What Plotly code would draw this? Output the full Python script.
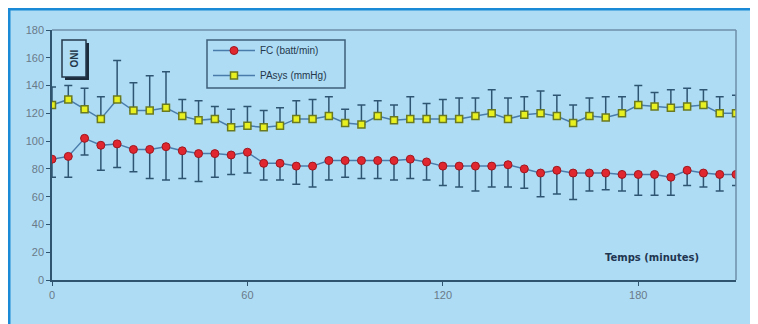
import plotly.graph_objects as go

minutes = list(range(0, 215, 5))

fc_values = [87, 89, 102, 97, 98, 94, 94, 96, 93, 91, 91, 90, 92, 84, 84, 82, 82, 86, 86, 86, 86, 86,
             87, 85, 82, 82, 82, 82, 83, 80, 77, 79, 77, 77, 77, 76, 76, 76, 74, 79, 77, 76, 76]
fc_err_minus = [13, 15, 12, 18, 17, 16, 21, 24, 20, 20, 17, 14, 15, 12, 12, 13, 15, 14, 12, 13, 13, 14,
                14, 13, 14, 15, 18, 15, 16, 14, 17, 17, 19, 13, 12, 12, 15, 15, 13, 11, 10, 12, 8]

pa_values = [126, 130, 123, 116, 130, 122, 122, 124, 118, 115, 116, 110, 111, 110, 111, 116, 116, 118,
             113, 112, 118, 115, 116, 116, 116, 116, 118, 120, 116, 119, 120, 118, 113, 118, 117, 120,
             126, 125, 124, 125, 126, 120, 120]
pa_err_plus = [13, 10, 15, 16, 28, 20, 25, 26, 12, 14, 9, 13, 14, 12, 13, 13, 14, 14, 10, 14, 11, 11,
               16, 11, 14, 15, 13, 17, 15, 13, 16, 15, 13, 13, 15, 12, 14, 10, 13, 13, 11, 12, 13]

x_ticks = [0, 60, 120, 180]
y_ticks = [0, 20, 40, 60, 80, 100, 120, 140, 160, 180]

BG = "#aedcf5"
AXIS = "#2f5470"
LINE = "#4a7cab"
ERR = "#2e5572"

fig = go.Figure()

fig.add_trace(go.Scatter(
    x=minutes, y=fc_values, name="FC (batt/min)", mode="lines+markers", legendgroup="a",
    line=dict(color=LINE, width=1.5),
    marker=dict(symbol="circle", size=8, color="#e0262e", line=dict(color="#a01820", width=1)),
    error_y=dict(type="data", symmetric=False, array=[0] * len(fc_err_minus),
                 arrayminus=fc_err_minus, color=ERR, thickness=1.5, width=4),
))
fig.add_trace(go.Scatter(
    x=minutes, y=pa_values, name="PAsys (mmHg)", mode="lines+markers", legendgroup="b",
    line=dict(color=LINE, width=1.5),
    marker=dict(symbol="square", size=7, color="#e8f020", line=dict(color="#6a7a20", width=1.5)),
    error_y=dict(type="data", symmetric=False, array=pa_err_plus,
                 arrayminus=[0] * len(pa_err_plus), color=ERR, thickness=1.5, width=4),
))

# page pixel -> paper coordinates (plot area spans page x 52..736, y 30..280)
def px_x(p):
    return (p - 52) / 684.0

def px_y(p):
    return (280 - p) / 250.0

shapes = [
    # outer frame at the figure edge
    dict(type="rect", xref="paper", yref="paper", layer="below",
         x0=px_x(9), x1=px_x(780), y0=px_y(340), y1=px_y(9),
         fillcolor="rgba(0,0,0,0)", line=dict(color="#1b8ad6", width=3)),
    # plot frame top and right
    dict(type="line", xref="paper", yref="paper", x0=0, x1=1, y0=1, y1=1,
         line=dict(color="#6e8ea8", width=1.5)),
    dict(type="line", xref="paper", yref="paper", x0=1, x1=1, y0=0, y1=1,
         line=dict(color="#6e8ea8", width=1.5)),
    # legend frame
    dict(type="rect", xref="paper", yref="paper",
         x0=px_x(207), x1=px_x(345), y0=px_y(88), y1=px_y(40),
         fillcolor="rgba(0,0,0,0)", line=dict(color="#3f5f78", width=1.5)),
    # ONI box shadow and box
    dict(type="rect", xref="paper", yref="paper",
         x0=px_x(65), x1=px_x(89), y0=px_y(80), y1=px_y(43),
         fillcolor="#1c2c3c", line=dict(width=0)),
    dict(type="rect", xref="paper", yref="paper",
         x0=px_x(62), x1=px_x(86), y0=px_y(77), y1=px_y(40),
         fillcolor=BG, line=dict(color="#24384c", width=1.5)),
]

annotations = [
    dict(xref="paper", yref="paper", x=px_x(74), y=px_y(58.5), xanchor="center", yanchor="middle",
         text="<b>ONI</b>", showarrow=False, textangle=-90,
         font=dict(family="Arial", size=10, color="#24384c")),
    dict(xref="paper", yref="paper", x=px_x(652), y=px_y(257), xanchor="center", yanchor="middle",
         text="<b>Temps (minutes)</b>", showarrow=False,
         font=dict(family="DejaVu Sans", size=10, color="#1f3550")),
]

fig.update_layout(
    width=750, height=316,
    margin=dict(l=44, r=22, t=22, b=44),
    paper_bgcolor=BG,
    plot_bgcolor="rgba(0,0,0,0)",
    showlegend=True,
    legend=dict(x=px_x(208), y=px_y(36), xanchor="left", yanchor="top",
                bgcolor="rgba(0,0,0,0)", borderwidth=0,
                font=dict(family="Arial", size=10, color="#24384c"),
                tracegroupgap=6, itemwidth=42),
    xaxis=dict(range=[0, 210], tickvals=x_ticks, ticktext=[str(v) for v in x_ticks],
               showgrid=False, zeroline=False, showline=True, linecolor=AXIS, linewidth=1.5,
               ticks="outside", ticklen=4, tickcolor=AXIS,
               tickfont=dict(family="Arial", size=11, color="#6a7a88")),
    yaxis=dict(range=[0, 180], tickvals=y_ticks, ticktext=[str(v) for v in y_ticks],
               showgrid=False, zeroline=False, showline=True, linecolor=AXIS, linewidth=1.5,
               ticks="outside", ticklen=4, tickcolor=AXIS,
               tickfont=dict(family="Arial", size=11, color="#6a7a88")),
    shapes=shapes,
    annotations=annotations,
)

fig.write_html("out.html")
